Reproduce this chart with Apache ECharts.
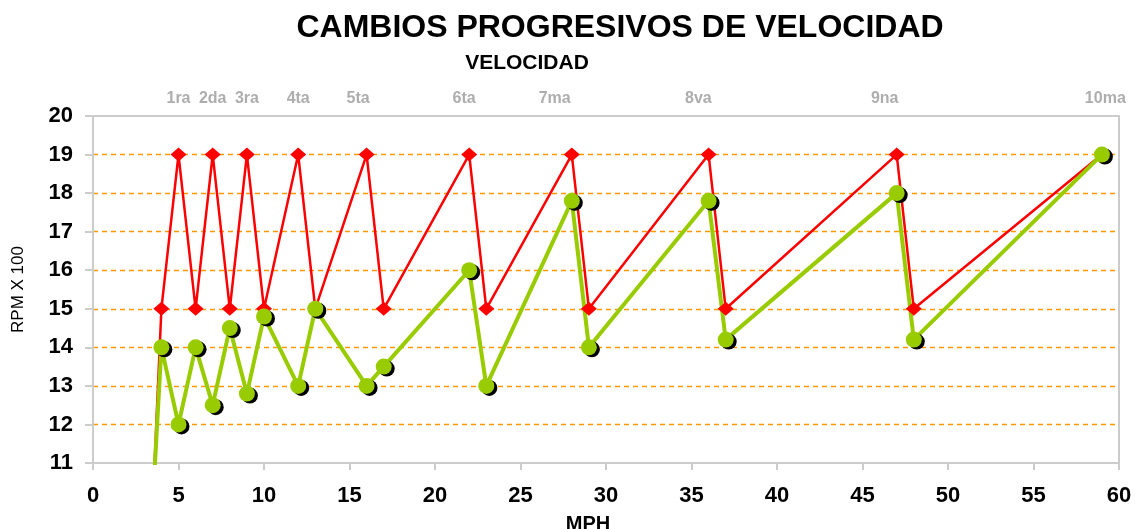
<!DOCTYPE html>
<html>
<head>
<meta charset="utf-8">
<script src="https://cdn.jsdelivr.net/npm/echarts@6/dist/echarts.min.js"></script>
</head>
<body style="margin:0">
<div id="container" style="width:1139px;height:529px"></div>
<script>
// MPH at each shift point
var mph = [3.5, 4, 5, 6, 7, 8, 9, 10, 12, 13, 16, 17, 22, 23, 28, 29, 36, 37, 47, 48, 59];
// red: shift at 1900 rpm, drop back to 1500
var rpmShift = [10, 15, 19, 15, 19, 15, 19, 15, 19, 15, 19, 15, 19, 15, 19, 15, 19, 15, 19, 15, 19];
// green: progressive shifting
var rpmProg = [10, 14, 12, 14, 12.5, 14.5, 12.8, 14.8, 13, 15, 13, 13.5, 16, 13, 17.8, 14, 17.8, 14.2, 18, 14.2, 19];
var gearNames = ['1ra', '2da', '3ra', '4ta', '5ta', '6ta', '7ma', '8va', '9na', '10ma'];
var gearPos = [5, 7, 9, 12, 15.5, 21.7, 27, 35.4, 46.3, 59.2];

function pts(ys) {
    return mph.map(function (x, i) {
        var p = {value: [x, ys[i]]};
        if (i === 0) p.symbol = 'none';   // start point lies below the axis
        return p;
    });
}

var myChart = echarts.init(document.getElementById('container'));
var option = {
    animation: false,
    textStyle: {fontFamily: 'Liberation Sans, Arial, sans-serif'},
    title: [
        {text: 'CAMBIOS PROGRESIVOS DE VELOCIDAD', left: 615, top: 7, textAlign: 'center',
         textStyle: {fontSize: 32, fontWeight: 'bold', color: '#000'}},
        {text: 'VELOCIDAD', left: 522, top: 48, textAlign: 'center',
         textStyle: {fontSize: 21, fontWeight: 'bold', color: '#000'}},
        {text: 'MPH', left: 583, top: 509, textAlign: 'center',
         textStyle: {fontSize: 20, fontWeight: 'bold', color: '#000'}}
    ],
    grid: {left: 93, right: 20, top: 116, bottom: 66, show: true,
           borderColor: '#cccccc', borderWidth: 2},
    xAxis: {
        type: 'value', min: 0, max: 60, interval: 5,
        axisLine: {show: true, lineStyle: {color: '#cccccc', width: 2}},
        axisTick: {show: true, length: 7, lineStyle: {color: '#cccccc', width: 2}},
        axisLabel: {color: '#000', fontSize: 22, fontWeight: 'bold', margin: 22},
        splitLine: {show: false}
    },
    yAxis: {
        type: 'value', min: 11, max: 20, interval: 1,
        name: 'RPM X 100', nameLocation: 'middle', nameRotate: 90, nameGap: 66,
        nameTextStyle: {fontSize: 17, color: '#000'},
        axisLine: {show: true, lineStyle: {color: '#cccccc', width: 2}},
        axisTick: {show: true, length: 8, lineStyle: {color: '#cccccc', width: 2}},
        axisLabel: {color: '#000', fontSize: 22, fontWeight: 'bold', margin: 20},
        splitLine: {show: true, showMinLine: false, showMaxLine: false,
                    lineStyle: {type: [5, 4], color: '#ff9900', width: 1.3}}
    },
    series: [
        {
            name: 'Cambio', type: 'line', data: pts(rpmShift),
            symbol: 'diamond', symbolSize: [16, 14],
            lineStyle: {color: '#ff0000', width: 2.5},
            itemStyle: {color: '#ff0000'}
        },
        {
            name: 'Progresivo', type: 'line', data: pts(rpmProg),
            symbol: 'circle', symbolSize: 16,
            lineStyle: {color: '#99cc00', width: 4},
            itemStyle: {color: '#99cc00', shadowColor: '#000', shadowBlur: 0,
                        shadowOffsetX: 3, shadowOffsetY: 2}
        },
        {
            name: 'Marchas', type: 'scatter', symbolSize: 0, silent: true, clip: false,
            data: gearNames.map(function (n, i) { return {name: n, value: [gearPos[i], 20]}; }),
            label: {show: true, position: 'top', distance: 9, formatter: '{b}',
                    color: '#999999', fontSize: 16, fontWeight: 'bold'}
        }
    ]
};
myChart.setOption(option);
</script>
</body>
</html>
